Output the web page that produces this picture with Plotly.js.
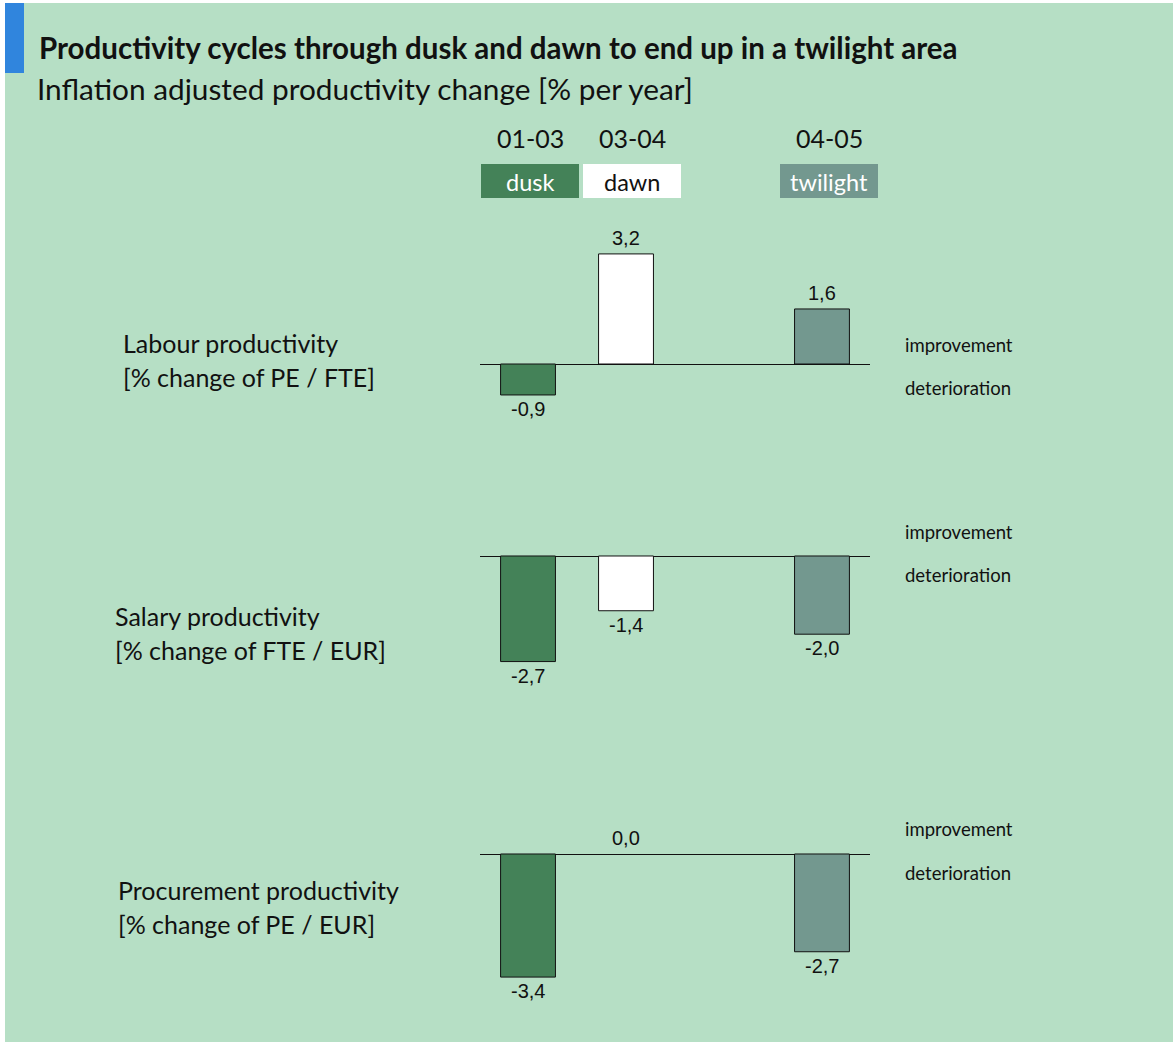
<!DOCTYPE html>
<html>
<head>
<meta charset="utf-8">
<script src="https://cdn.plot.ly/plotly-3.0.1.min.js"></script>
<style>html,body{margin:0;padding:0;background:#fff;}#chart{width:1173px;height:1042px;}</style>
</head>
<body>
<div id="chart"></div>
<script>
// ---------- DATA ----------
const periods = ['01-03', '03-04', '04-05'];
const phases = ['dusk', 'dawn', 'twilight'];
const metricNames = ['Labour productivity', 'Salary productivity', 'Procurement productivity'];
const metricUnits = ['[% change of PE / FTE]', '[% change of FTE / EUR]', '[% change of PE / EUR]'];
const labour = [-0.9, 3.2, 1.6];
const salary = [-2.7, -1.4, -2.0];
const procurement = [-3.4, 0.0, -2.7];
const upLabel = 'improvement';
const downLabel = 'deterioration';
const titleText = 'Productivity cycles through dusk and dawn to end up in a twilight area';
const subtitleText = 'Inflation adjusted productivity change [% per year]';

// ---------- LAYOUT HELPERS ----------
const W = 1173, H = 1042;
const PX = p => p / W;
const PY = p => 1 - p / H;
const slot = [0, 1, 3];               // horizontal slot of each phase
const phaseColors = ['#448258', '#ffffff', '#73988f'];
const phaseTextColors = ['#ffffff', '#111111', '#ffffff'];
const headerBoxes = [[481, 579], [583, 681], [780, 878]];
const BG = '#b6dfc5';
const fontMain = 'Lato, "Open Sans", sans-serif';
const fontNum = '"Liberation Sans", Arial, sans-serif';

// per panel: zero-line pixel y, pixels per unit, y range
const panels = [
  {vals: labour,      zero: 364, ppu: 34.4, range: [-1.5, 3.6], labelX: 121, labelY: [343, 377], rightY: [345, 388]},
  {vals: salary,      zero: 556, ppu: 39.1, range: [-3.2, 0.8], labelX: 113, labelY: [616, 650], rightY: [532, 575]},
  {vals: procurement, zero: 854, ppu: 36.2, range: [-3.8, 0.8], labelX: 116, labelY: [890, 924], rightY: [829, 873]}
];

const fmt = v => v.toFixed(1).replace('.', ',');

const data = [];
const annotations = [];
const shapes = [];
const layout = {
  width: W, height: H,
  margin: {l: 0, r: 0, t: 0, b: 0, pad: 0},
  paper_bgcolor: '#ffffff',
  plot_bgcolor: 'rgba(0,0,0,0)',
  showlegend: false,
  font: {family: fontMain, color: '#111111'},
  xaxis: {
    domain: [PX(480), PX(870)], range: [-0.49, 3.49],
    showgrid: false, zeroline: false, showticklabels: false, showline: false, ticks: '', fixedrange: true
  }
};

// background panel + blue accent
shapes.push({type: 'rect', xref: 'paper', yref: 'paper', x0: PX(5), x1: 1, y0: 0, y1: PY(3),
  fillcolor: BG, line: {width: 0}, layer: 'below'});
shapes.push({type: 'rect', xref: 'paper', yref: 'paper', x0: PX(5), x1: PX(24), y0: PY(73), y1: PY(3),
  fillcolor: '#3085dd', line: {width: 0}, layer: 'below'});

annotations.push({xref: 'paper', yref: 'paper', x: PX(37), y: PY(47), xanchor: 'left', yanchor: 'middle',
  text: '<b>' + titleText + '</b>', showarrow: false, font: {family: fontMain, size: 29.5, color: '#111111'}});
annotations.push({xref: 'paper', yref: 'paper', x: PX(35), y: PY(88), xanchor: 'left', yanchor: 'middle',
  text: subtitleText, showarrow: false, font: {family: fontMain, size: 29.8, color: '#111111'}});

// header boxes
phases.forEach((ph, i) => {
  const [a, b] = headerBoxes[i];
  shapes.push({type: 'rect', xref: 'paper', yref: 'paper', x0: PX(a), x1: PX(b), y0: PY(198), y1: PY(164),
    fillcolor: phaseColors[i], line: {width: 0}});
  annotations.push({xref: 'paper', yref: 'paper', x: PX((a + b) / 2), y: PY(182), xanchor: 'center', yanchor: 'middle',
    text: ph, showarrow: false, font: {family: fontMain, size: 23.5, color: phaseTextColors[i]}});
  annotations.push({xref: 'paper', yref: 'paper', x: PX((a + b) / 2), y: PY(138), xanchor: 'center', yanchor: 'middle',
    text: periods[i], showarrow: false, font: {family: fontMain, size: 25, color: '#111111'}});
});

panels.forEach((p, k) => {
  const yName = k === 0 ? 'yaxis' : 'yaxis' + (k + 1);
  const yRef = k === 0 ? 'y' : 'y' + (k + 1);
  const top = p.zero - p.range[1] * p.ppu;
  const bot = p.zero - p.range[0] * p.ppu;
  layout[yName] = {
    domain: [PY(bot), PY(top)], range: p.range, anchor: 'x',
    showgrid: false, showticklabels: false, showline: false, ticks: '', fixedrange: true,
    zeroline: true, zerolinecolor: '#111111', zerolinewidth: 1
  };
  data.push({
    type: 'bar', x: slot, y: p.vals, yaxis: yRef, xaxis: 'x', width: 0.56,
    marker: {color: phaseColors, line: {color: '#111111', width: p.vals.map(v => v === 0 ? 0 : 1)}},
    hoverinfo: 'skip'
  });
  p.vals.forEach((v, i) => {
    annotations.push({xref: 'x', yref: yRef, x: slot[i], y: v, text: fmt(v), showarrow: false,
      xanchor: 'center', yanchor: v >= 0 ? 'bottom' : 'top', yshift: v >= 0 ? 3 : -1,
      font: {family: fontNum, size: 20, color: '#111111'}});
  });
  annotations.push({xref: 'paper', yref: 'paper', x: PX(p.labelX), y: PY(p.labelY[0]), xanchor: 'left', yanchor: 'middle',
    text: metricNames[k], showarrow: false, font: {family: fontMain, size: 25, color: '#111111'}});
  annotations.push({xref: 'paper', yref: 'paper', x: PX(p.labelX), y: PY(p.labelY[1]), xanchor: 'left', yanchor: 'middle',
    text: metricUnits[k], showarrow: false, font: {family: fontMain, size: 25, color: '#111111'}});
  annotations.push({xref: 'paper', yref: 'paper', x: PX(903), y: PY(p.rightY[0]), xanchor: 'left', yanchor: 'middle',
    text: upLabel, showarrow: false, font: {family: fontMain, size: 18.5, color: '#111111'}});
  annotations.push({xref: 'paper', yref: 'paper', x: PX(903), y: PY(p.rightY[1]), xanchor: 'left', yanchor: 'middle',
    text: downLabel, showarrow: false, font: {family: fontMain, size: 18.5, color: '#111111'}});
});

layout.annotations = annotations;
layout.shapes = shapes;

Plotly.newPlot('chart', data, layout, {displayModeBar: false, staticPlot: true});
</script>
</body>
</html>
